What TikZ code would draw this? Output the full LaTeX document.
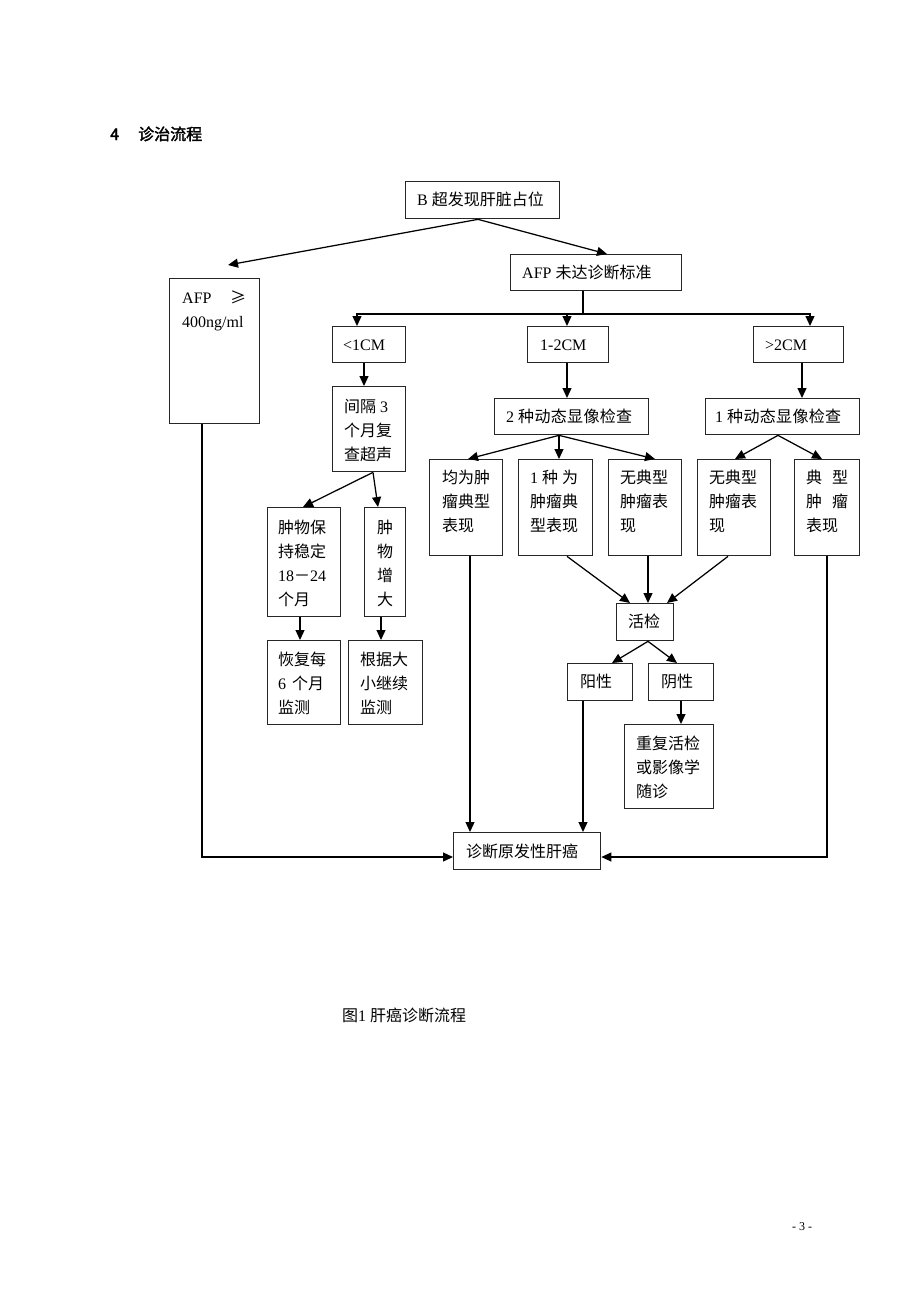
\documentclass[tikz,border=0pt]{standalone}
\usepackage{fontspec}
\setmainfont{Liberation Serif}
\newfontfamily\cjk{Noto Sans CJK SC}
\newfontfamily\cjkb[FakeBold=2]{Noto Sans CJK SC}
\usetikzlibrary{arrows.meta,calc}
\newcommand\zh[1]{{\cjk #1}}
\newcommand\fsz{\fontsize{16pt}{24pt}\selectfont}
\newcommand\frl{\rule{0pt}{18pt}}
\begin{document}
\begin{tikzpicture}[x=1pt,y=-1pt,
 box/.style={draw=black!85, line width=1.35pt, inner sep=0pt, anchor=north west},
 tx/.style={anchor=north west, inner sep=0pt, align=left, font=\fsz},
 ln/.style={line width=1.25pt},
 arr/.style={line width=1.25pt, -{Triangle[length=10pt,width=9pt]}}]
\useasboundingbox (0,0) rectangle (920,1302);
\fill[white] (0,0) rectangle (920,1302);

% title
\node[anchor=base west, inner sep=0pt, font=\fsz\cjkb] (t1) at (110,140) {4};
\node[anchor=base west, inner sep=0pt, font=\fsz\cjkb] (t2) at (138,140) {诊治流程};

% boxes
\node[box,minimum width=154pt,minimum height=37pt] (B) at (405,181) {};
\node[box,minimum width=171pt,minimum height=36pt] (AFPn) at (510,254) {};
\node[box,minimum width=90pt,minimum height=145pt] (AFPy) at (169,278) {};
\node[box,minimum width=73pt,minimum height=36pt] (lt1) at (332,326) {};
\node[box,minimum width=81pt,minimum height=36pt] (m12) at (527,326) {};
\node[box,minimum width=90pt,minimum height=36pt] (gt2) at (753,326) {};
\node[box,minimum width=73pt,minimum height=85pt] (jg) at (332,386) {};
\node[box,minimum width=154pt,minimum height=36pt] (d2) at (494,398) {};
\node[box,minimum width=154pt,minimum height=36pt] (d1) at (705,398) {};
\node[box,minimum width=73pt,minimum height=96pt] (r1) at (429,459) {};
\node[box,minimum width=74pt,minimum height=96pt] (r2) at (518,459) {};
\node[box,minimum width=73pt,minimum height=96pt] (r3) at (608,459) {};
\node[box,minimum width=73pt,minimum height=96pt] (r4) at (697,459) {};
\node[box,minimum width=65pt,minimum height=96pt] (r5) at (794,459) {};
\node[box,minimum width=73pt,minimum height=109pt] (ks) at (267,507) {};
\node[box,minimum width=41pt,minimum height=109pt] (kz) at (364,507) {};
\node[box,minimum width=73pt,minimum height=84pt] (hf) at (267,640) {};
\node[box,minimum width=74pt,minimum height=84pt] (gj) at (348,640) {};
\node[box,minimum width=57pt,minimum height=37pt] (hj) at (616,603) {};
\node[box,minimum width=65pt,minimum height=37pt] (yx) at (567,663) {};
\node[box,minimum width=65pt,minimum height=37pt] (ynx) at (648,663) {};
\node[box,minimum width=89pt,minimum height=84pt] (cf) at (624,724) {};
\node[box,minimum width=147pt,minimum height=37pt] (zd) at (453,832) {};

% texts
\node[tx] (Bt) at (417,187) {\frl B \zh{超发现肝脏占位}};
\node[tx] (AFPnt) at (522,260) {\frl AFP \zh{未达诊断标准}};
\node[tx] (AFPyt) at (182,285) {\frl\makebox[64pt][l]{AFP\hfill\zh{≥}}\\400ng/ml};
\node[tx] (lt1t) at (343,332) {\frl <1CM};
\node[tx] (m12t) at (540,332) {\frl 1-2CM};
\node[tx] (gt2t) at (765,332) {\frl >2CM};
\node[tx] (jgt) at (344,394) {\frl\zh{间隔} 3\\\zh{个月复}\\\zh{查超声}};
\node[tx] (d2t) at (506,404) {\frl 2 \makebox[114pt][s]{\zh{种}\hfill\zh{动}\hfill\zh{态}\hfill\zh{显}\hfill\zh{像}\hfill\zh{检}\hfill\zh{查}}};
\node[tx] (d1t) at (715,404) {\frl 1 \makebox[114pt][s]{\zh{种}\hfill\zh{动}\hfill\zh{态}\hfill\zh{显}\hfill\zh{像}\hfill\zh{检}\hfill\zh{查}}};
\node[tx] (r1t) at (442,465) {\frl\zh{均为肿}\\\zh{瘤典型}\\\zh{表现}};
\node[tx] (r2t) at (530,465) {\frl\makebox[48pt][s]{1\hfill\zh{种}\hfill\zh{为}}\\\zh{肿瘤典}\\\zh{型表现}};
\node[tx] (r3t) at (620,465) {\frl\zh{无典型}\\\zh{肿瘤表}\\\zh{现}};
\node[tx] (r4t) at (709,465) {\frl\zh{无典型}\\\zh{肿瘤表}\\\zh{现}};
\node[tx] (r5t) at (806,465) {\frl\makebox[42pt][s]{\zh{典}\hfill\zh{型}}\\\makebox[42pt][s]{\zh{肿}\hfill\zh{瘤}}\\\zh{表现}};
\node[tx] (kst) at (278,515) {\frl\zh{肿物保}\\\zh{持稳定}\\18\zh{－}24\\\zh{个月}};
\node[tx,anchor=north,align=center] (kzt) at (385,515) {\frl\zh{肿}\\\zh{物}\\\zh{增}\\\zh{大}};
\node[tx] (hft) at (278,647) {\frl\zh{恢复每}\\6\hspace{6pt}\zh{个月}\\\zh{监测}};
\node[tx] (gjt) at (360,647) {\frl\zh{根据大}\\\zh{小继续}\\\zh{监测}};
\node[tx] (hjt) at (628,609) {\frl\zh{活检}};
\node[tx] (yxt) at (580,669) {\frl\zh{阳性}};
\node[tx] (ynxt) at (661,669) {\frl\zh{阴性}};
\node[tx] (cft) at (636,731) {\frl\zh{重复活检}\\\zh{或影像学}\\\zh{随诊}};
\node[tx] (zdt) at (466,839) {\frl\zh{诊断原发性肝癌}};

% caption and page number
\node[anchor=base west, inner sep=0pt, font=\fsz] (cap) at (342,1021) {\zh{图}1 \zh{肝癌诊断流程}};
\node[anchor=base west, inner sep=0pt, font=\fontsize{12pt}{14pt}\selectfont] (pg) at (792,1230) {- 3 -};

% connectors
\coordinate (cL) at (228,265);
\draw[arr] ($(B.south west)+(73,0)$) -- (cL);
\draw[arr] ($(B.south west)+(73,0)$) -- ($(AFPn.north west)+(97,0)$);

\coordinate (J1) at (583,314);
\draw[ln] ($(AFPn.south west)+(73,0)$) -- (J1);
\draw[arr] (J1) -| ($(lt1.north west)+(25,0)$);
\draw[arr] (J1) -| ($(m12.north west)+(40,0)$);
\draw[arr] (J1) -| ($(gt2.north west)+(57,0)$);

\draw[arr] ($(lt1.south west)+(32,0)$) -- ($(jg.north west)+(32,0)$);
\draw[arr] ($(m12.south west)+(40,0)$) -- ($(d2.north west)+(73,0)$);
\draw[arr] ($(gt2.south west)+(49,0)$) -- ($(d1.north west)+(97,0)$);

\coordinate (d2s) at ($(d2.south west)+(65,0)$);
\draw[arr] (d2s) -- ($(r1.north west)+(39,0)$);
\draw[arr] (d2s) -- ($(r2.north west)+(41,0)$);
\draw[arr] (d2s) -- ($(r3.north west)+(47,0)$);
\coordinate (d1s) at ($(d1.south west)+(73,0)$);
\draw[arr] (d1s) -- ($(r4.north west)+(38,0)$);
\draw[arr] (d1s) -- ($(r5.north west)+(28,0)$);

\draw[arr] ($(r1.south west)+(41,0)$) -- ($(zd.north west)+(17,0)$);
\draw[arr] ($(r2.south west)+(49,0)$) -- ($(hj.north west)+(14,0)$);
\draw[arr] ($(r3.south west)+(40,0)$) -- ($(hj.north west)+(32,0)$);
\draw[arr] ($(r4.south west)+(31,0)$) -- ($(hj.north west)+(51,0)$);
\draw[arr] ($(r5.south west)+(33,0)$) |- ($(zd.north east)+(0,25)$);
\draw[arr] ($(AFPy.south west)+(33,0)$) |- ($(zd.north west)+(0,25)$);

\coordinate (jgs) at ($(jg.south west)+(41,0)$);
\draw[arr] (jgs) -- ($(ks.north west)+(36,0)$);
\draw[arr] (jgs) -- ($(kz.north west)+(14,0)$);
\draw[arr] ($(ks.south west)+(33,0)$) -- ($(hf.north west)+(33,0)$);
\draw[arr] ($(kz.south west)+(17,0)$) -- ($(gj.north west)+(33,0)$);

\coordinate (hjs) at ($(hj.south west)+(32,0)$);
\draw[arr] (hjs) -- ($(yx.north west)+(45,0)$);
\draw[arr] (hjs) -- ($(ynx.north west)+(29,0)$);
\draw[arr] ($(ynx.south west)+(33,0)$) -- ($(cf.north west)+(57,0)$);
\draw[arr] ($(yx.south west)+(16,0)$) -- ($(zd.north west)+(130,0)$);
\end{tikzpicture}
\end{document}
